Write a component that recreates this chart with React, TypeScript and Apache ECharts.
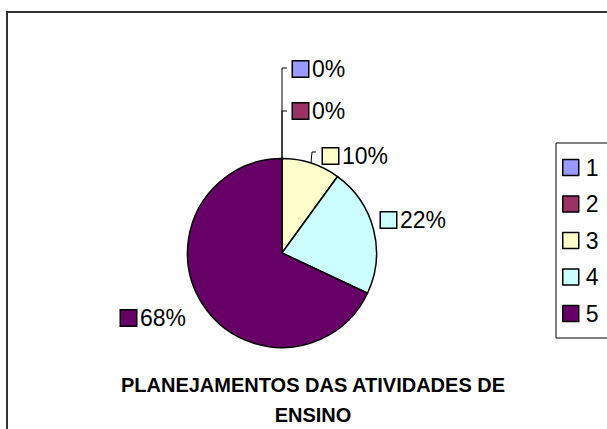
import React, { useEffect, useRef } from "react";
import * as echarts from "echarts";

const categories = ["1", "2", "3", "4", "5"];
const values = [0, 0, 10, 22, 68];
const colors = ["#9999FF", "#993366", "#FFFFCC", "#CCFFFF", "#660066"];
const titleLines = ["PLANEJAMENTOS DAS ATIVIDADES DE", "ENSINO"];

// label anchor positions (left edge, vertical middle) and leader lines
const labelPos: [number, number][] = [
  [293, 69],
  [293, 111],
  [323, 156],
  [381, 220],
  [121, 318],
];
const leaderLines: (number[][] | null)[] = [
  [[287, 68], [282, 68], [282, 158]],
  [[287, 111], [282, 111], [282, 158]],
  [[316, 152], [312, 152], [311, 163]],
  null,
  null,
];

const FONT = "Arial, 'Liberation Sans', sans-serif";

export default function App() {
  const ref = useRef<HTMLDivElement>(null);
  useEffect(() => {
    if (!ref.current) return;
    const chart = echarts.init(ref.current, null, { renderer: "svg" });
    const data = categories.map((c, i) => ({
      name: c,
      value: values[i],
      itemStyle: { color: colors[i] },
      labelLine: { show: leaderLines[i] !== null },
      label: {
        rich: {
          b: {
            width: 15,
            height: 15,
            backgroundColor: colors[i],
            borderColor: "#000",
            borderWidth: 1.5,
          },
          t: {
            fontSize: 23,
            fontFamily: FONT,
            color: "#000",
            padding: [0, 0, 0, 4],
          },
        },
      },
    }));
    chart.setOption({
      animation: false,
      backgroundColor: "#fff",
      graphic: [
        {
          type: "rect",
          shape: { x: 7, y: 12, width: 800, height: 600 },
          style: { fill: "none", stroke: "#333", lineWidth: 2 },
          silent: true,
        },
        {
          type: "text",
          x: 313,
          y: 400,
          style: {
            text: titleLines.join("\n"),
            font: `bold 20px ${FONT}`,
            fill: "#000",
            align: "center",
            verticalAlign: "middle",
            lineHeight: 30,
          },
        },
      ],
      legend: {
        orient: "vertical",
        left: 556,
        top: 143,
        data: categories,
        icon: "rect",
        itemWidth: 16,
        itemHeight: 16,
        itemGap: 13.5,
        padding: [13, 60, 13, 6],
        borderColor: "#000",
        borderWidth: 1,
        itemStyle: { borderColor: "#000", borderWidth: 1.5 },
        textStyle: {
          fontSize: 23,
          fontFamily: FONT,
          color: "#000",
          padding: [0, 0, 0, 2],
        },
      },
      series: [
        {
          type: "pie",
          center: [282, 253],
          radius: 94.5,
          startAngle: 90,
          clockwise: true,
          percentPrecision: 0,
          avoidLabelOverlap: false,
          stillShowZeroSum: true,
          itemStyle: { borderColor: "#000", borderWidth: 1.5 },
          emphasis: { disabled: true },
          label: {
            show: true,
            position: "outside",
            formatter: "{b|}{t|{d}%}",
          },
          labelLine: {
            show: true,
            lineStyle: { color: "#000", width: 1 },
          },
          labelLayout: (params: any) => {
            const i = params.dataIndex;
            const res: any = {
              x: labelPos[i][0],
              y: labelPos[i][1],
              align: "left",
              verticalAlign: "middle",
            };
            if (leaderLines[i]) res.labelLinePoints = leaderLines[i];
            return res;
          },
          data,
        },
      ],
    });
    return () => chart.dispose();
  }, []);
  return (
    <div
      ref={ref}
      style={{ position: "absolute", left: 0, top: 0, width: 607, height: 429 }}
    />
  );
}
